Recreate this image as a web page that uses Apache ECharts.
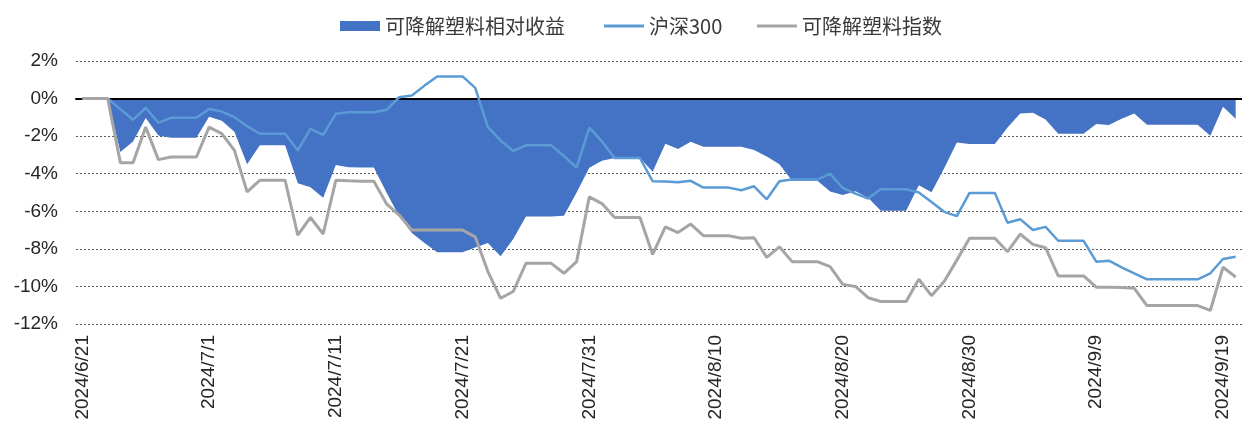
<!DOCTYPE html>
<html>
<head>
<meta charset="utf-8">
<title>可降解塑料相对收益</title>
<script src="https://cdn.jsdelivr.net/npm/echarts@6/dist/echarts.min.js"></script>
<style>
  html, body { margin: 0; padding: 0; background: #fff; }
  #chart { width: 1242px; height: 428px; }
</style>
</head>
<body>
<div id="chart"></div>
<script>
// Daily calendar dates (weekends and holidays carry the previous close)
const dates = [
  '2024/6/21','2024/6/22','2024/6/23','2024/6/24','2024/6/25','2024/6/26','2024/6/27','2024/6/28','2024/6/29','2024/6/30',
  '2024/7/1','2024/7/2','2024/7/3','2024/7/4','2024/7/5','2024/7/6','2024/7/7','2024/7/8','2024/7/9','2024/7/10',
  '2024/7/11','2024/7/12','2024/7/13','2024/7/14','2024/7/15','2024/7/16','2024/7/17','2024/7/18','2024/7/19','2024/7/20',
  '2024/7/21','2024/7/22','2024/7/23','2024/7/24','2024/7/25','2024/7/26','2024/7/27','2024/7/28','2024/7/29','2024/7/30',
  '2024/7/31','2024/8/1','2024/8/2','2024/8/3','2024/8/4','2024/8/5','2024/8/6','2024/8/7','2024/8/8','2024/8/9',
  '2024/8/10','2024/8/11','2024/8/12','2024/8/13','2024/8/14','2024/8/15','2024/8/16','2024/8/17','2024/8/18','2024/8/19',
  '2024/8/20','2024/8/21','2024/8/22','2024/8/23','2024/8/24','2024/8/25','2024/8/26','2024/8/27','2024/8/28','2024/8/29',
  '2024/8/30','2024/8/31','2024/9/1','2024/9/2','2024/9/3','2024/9/4','2024/9/5','2024/9/6','2024/9/7','2024/9/8',
  '2024/9/9','2024/9/10','2024/9/11','2024/9/12','2024/9/13','2024/9/14','2024/9/15','2024/9/16','2024/9/17','2024/9/18',
  '2024/9/19','2024/9/20'
];

// Cumulative return of the CSI 300, %
const hs300 = [
  0, 0, 0, -0.56, -1.13, -0.49, -1.29, -1.02, -1.02, -1.02,
  -0.55, -0.69, -0.99, -1.47, -1.87, -1.87, -1.87, -2.76, -1.61, -1.93,
  -0.81, -0.73, -0.73, -0.73, -0.60, 0.07, 0.16, 0.69, 1.18, 1.18,
  1.18, 0.57, -1.52, -2.23, -2.79, -2.49, -2.49, -2.49, -3.06, -3.68,
  -1.55, -2.28, -3.17, -3.17, -3.17, -4.40, -4.42, -4.45, -4.38, -4.74,
  -4.74, -4.74, -4.88, -4.67, -5.36, -4.40, -4.31, -4.31, -4.31, -4.00,
  -4.76, -5.06, -5.32, -4.83, -4.83, -4.83, -5.00, -5.50, -6.03, -6.26,
  -5.02, -5.02, -5.02, -6.61, -6.42, -7.00, -6.83, -7.57, -7.57, -7.57,
  -8.68, -8.63, -8.98, -9.30, -9.62, -9.62, -9.62, -9.62, -9.62, -9.30,
  -8.54, -8.42
];

// Cumulative return of the degradable plastics index, %
const plasticIndex = [
  0, 0, 0, -3.41, -3.41, -1.52, -3.25, -3.11, -3.11, -3.11,
  -1.52, -1.87, -2.76, -4.97, -4.35, -4.35, -4.35, -7.27, -6.33, -7.21,
  -4.35, -4.38, -4.40, -4.40, -5.60, -6.20, -7.00, -7.00, -7.00, -7.00,
  -7.00, -7.36, -9.21, -10.63, -10.27, -8.77, -8.77, -8.77, -9.30, -8.68,
  -5.23, -5.59, -6.33, -6.33, -6.33, -8.30, -6.83, -7.13, -6.68, -7.30,
  -7.30, -7.30, -7.44, -7.41, -8.45, -7.89, -8.68, -8.68, -8.68, -8.95,
  -9.89, -10.00, -10.60, -10.80, -10.80, -10.80, -9.62, -10.49, -9.74, -8.60,
  -7.44, -7.44, -7.44, -8.15, -7.21, -7.76, -7.94, -9.44, -9.44, -9.44,
  -10.04, -10.04, -10.06, -10.10, -11.02, -11.02, -11.02, -11.02, -11.02, -11.28,
  -8.98, -9.50
];

// Excess return of the index over the CSI 300, %
const relative = [
  0, 0, 0, -2.85, -2.28, -1.03, -1.96, -2.09, -2.09, -2.09,
  -0.97, -1.18, -1.77, -3.50, -2.48, -2.48, -2.48, -4.51, -4.72, -5.28,
  -3.54, -3.65, -3.67, -3.67, -5.00, -6.27, -7.16, -7.69, -8.18, -8.18,
  -8.18, -7.93, -7.69, -8.40, -7.48, -6.28, -6.28, -6.28, -6.24, -5.00,
  -3.68, -3.31, -3.16, -3.16, -3.16, -3.90, -2.41, -2.68, -2.30, -2.56,
  -2.56, -2.56, -2.56, -2.74, -3.09, -3.49, -4.37, -4.37, -4.37, -4.95,
  -5.13, -4.94, -5.28, -5.97, -5.97, -5.97, -4.62, -4.99, -3.71, -2.34,
  -2.42, -2.42, -2.42, -1.54, -0.79, -0.76, -1.11, -1.87, -1.87, -1.87,
  -1.36, -1.41, -1.08, -0.80, -1.40, -1.40, -1.40, -1.40, -1.40, -1.98,
  -0.44, -1.08
];

const yTicks = { min: -12, max: 2, interval: 2 };

const NAME_REL = '可降解塑料相对收益';
const NAME_HS = '沪深300';
const NAME_IDX = '可降解塑料指数';

const axisFont = 'Liberation Sans, Arial, sans-serif';
const cjkFont = '"Noto Sans CJK SC", sans-serif';

const chart = echarts.init(document.getElementById('chart'), null, { renderer: 'canvas' });

const legendText = { fontFamily: cjkFont, fontSize: 20, color: '#3a3a3a', lineHeight: 22 };

chart.setOption({
  animation: false,
  backgroundColor: '#fff',
  legend: [
    // filled block for the area series
    { data: [{ name: NAME_REL, icon: 'rect' }], left: 335, top: 10, itemWidth: 40, itemHeight: 10, textStyle: legendText },
    // plain strokes for the two line series
    { data: [{ name: NAME_HS, icon: 'rect' }], left: 599, top: 10, itemWidth: 40, itemHeight: 3, textStyle: legendText },
    { data: [{ name: NAME_IDX, icon: 'rect' }], left: 752, top: 10, itemWidth: 40, itemHeight: 3, textStyle: legendText }
  ],
  grid: { left: 76, top: 61, width: 1174, height: 263, containLabel: false },
  xAxis: [
    {
      type: 'category',
      data: dates,
      boundaryGap: true,
      z: 3,
      axisLine: { onZero: true, lineStyle: { color: '#000', width: 2 } },
      axisTick: { inside: true, length: 5, lineStyle: { color: '#000', width: 2 }, interval: 9 },
      axisLabel: { show: false },
      splitLine: { show: false }
    },
    {
      type: 'category',
      data: dates,
      boundaryGap: true,
      position: 'bottom',
      axisLine: { show: false, onZero: false },
      axisTick: { show: false },
      axisLabel: {
        interval: 9,
        rotate: 90,
        margin: 11,
        fontFamily: axisFont,
        fontSize: 19,
        color: '#262626'
      },
      splitLine: { show: false }
    }
  ],
  yAxis: {
    type: 'value',
    min: yTicks.min,
    max: yTicks.max,
    interval: yTicks.interval,
    axisLine: { show: false },
    axisTick: { show: false },
    axisLabel: {
      formatter: '{value}%',
      margin: 18,
      fontFamily: axisFont,
      fontSize: 19,
      color: '#262626'
    },
    splitLine: { lineStyle: { color: '#595959', width: 1, type: [2, 2] } }
  },
  series: [
    {
      name: NAME_REL,
      type: 'line',
      xAxisIndex: 0,
      data: relative,
      symbol: 'none',
      z: 2,
      lineStyle: { width: 0 },
      itemStyle: { color: '#4472C4' },
      areaStyle: { color: '#4472C4', opacity: 1 }
    },
    {
      name: NAME_HS,
      type: 'line',
      xAxisIndex: 0,
      data: hs300,
      symbol: 'none',
      z: 4,
      itemStyle: { color: '#5B9BD5' },
      lineStyle: { color: '#5B9BD5', width: 2.5 }
    },
    {
      name: NAME_IDX,
      type: 'line',
      xAxisIndex: 0,
      data: plasticIndex,
      symbol: 'none',
      z: 5,
      itemStyle: { color: '#A5A5A5' },
      lineStyle: { color: '#A5A5A5', width: 3 }
    }
  ]
});
</script>
</body>
</html>
